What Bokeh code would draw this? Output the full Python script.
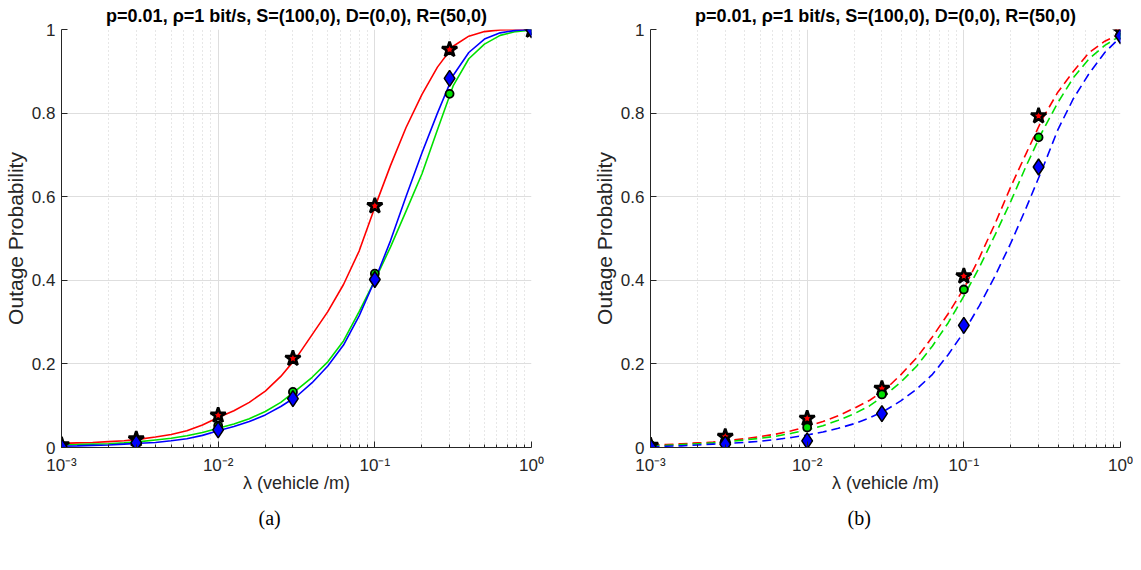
from bokeh.plotting import figure
from bokeh.layouts import row
from bokeh.models import FixedTicker, CustomJSTickFormatter, Title
from bokeh.embed import file_html
from bokeh.resources import INLINE

# ---------------- data ----------------
lam_curve = [0.001, 0.00126, 0.00158, 0.002, 0.00251, 0.00316, 0.00398, 0.00501, 0.00631, 0.00794,
             0.01, 0.0126, 0.0158, 0.02, 0.0251, 0.0316, 0.0398, 0.0501, 0.0631, 0.0794,
             0.1, 0.126, 0.158, 0.2, 0.251, 0.316, 0.398, 0.501, 0.631, 0.794, 1.0]
lam_pts = [0.001, 0.003, 0.01, 0.03, 0.1, 0.3, 1.0]

# (a) analytical curves (solid)
a_red = [0.0098, 0.011, 0.012, 0.014, 0.016, 0.020, 0.025, 0.031, 0.040, 0.054,
         0.072, 0.088, 0.108, 0.135, 0.170, 0.215, 0.27, 0.325, 0.39, 0.47,
         0.575, 0.675, 0.765, 0.845, 0.91, 0.96, 0.984, 0.995, 0.999, 1.0, 1.0]
a_green = [0.006, 0.007, 0.008, 0.009, 0.011, 0.014, 0.018, 0.022, 0.028, 0.036,
           0.046, 0.056, 0.069, 0.086, 0.108, 0.137, 0.168, 0.205, 0.255, 0.325,
           0.40, 0.48, 0.565, 0.655, 0.76, 0.865, 0.93, 0.965, 0.986, 0.995, 0.999]
a_blue = [0.003, 0.004, 0.005, 0.006, 0.008, 0.010, 0.012, 0.016, 0.021, 0.029,
          0.040, 0.050, 0.062, 0.078, 0.098, 0.122, 0.155, 0.195, 0.245, 0.315,
          0.400, 0.495, 0.600, 0.705, 0.80, 0.89, 0.945, 0.977, 0.992, 0.998, 1.0]
# (a) simulation markers
a_red_pts = [0.006, 0.020, 0.077, 0.213, 0.578, 0.952, 0.998]
a_green_pts = [0.004, 0.013, 0.052, 0.133, 0.416, 0.846, 0.998]
a_blue_pts = [0.002, 0.011, 0.042, 0.117, 0.402, 0.883, 0.999]

# (b) analytical curves (dashed)
b_red = [0.006, 0.007, 0.009, 0.011, 0.013, 0.017, 0.021, 0.026, 0.032, 0.040,
         0.050, 0.062, 0.076, 0.094, 0.113, 0.139, 0.175, 0.215, 0.265, 0.32,
         0.38, 0.455, 0.535, 0.625, 0.705, 0.785, 0.85, 0.90, 0.945, 0.972, 0.99]
b_green = [0.004, 0.005, 0.007, 0.009, 0.011, 0.014, 0.018, 0.022, 0.027, 0.034,
           0.042, 0.052, 0.065, 0.081, 0.10, 0.126, 0.157, 0.195, 0.243, 0.298,
           0.362, 0.432, 0.508, 0.59, 0.675, 0.755, 0.825, 0.885, 0.93, 0.962, 0.985]
b_blue = [0.002, 0.003, 0.004, 0.006, 0.008, 0.010, 0.012, 0.015, 0.019, 0.024,
          0.030, 0.037, 0.046, 0.057, 0.071, 0.089, 0.112, 0.14, 0.175, 0.222,
          0.276, 0.34, 0.41, 0.49, 0.575, 0.665, 0.76, 0.835, 0.895, 0.945, 0.982]
# (b) simulation markers
b_red_pts = [0.005, 0.026, 0.0695, 0.141, 0.41, 0.793, 0.997]
b_green_pts = [0.006, 0.014, 0.048, 0.127, 0.378, 0.742, 0.987]
b_blue_pts = [0.002, 0.008, 0.016, 0.081, 0.292, 0.671, 0.985]

x_major = [0.001, 0.01, 0.1, 1.0]
y_major = [0, 0.2, 0.4, 0.6, 0.8, 1.0]
title_text = "p=0.01, \u03c1=1 bit/s, S=(100,0), D=(0,0), R=(50,0)"
x_label = "\u03bb (vehicle /m)"
y_label = "Outage Probability"

SANS = "Liberation Sans"
AXC = "#262626"

x_minor = [m * d for d in (0.001, 0.01, 0.1) for m in range(2, 10)]

sup_fmt = CustomJSTickFormatter(code="""
const sup = {"-": "\u207b", "0": "\u2070", "1": "\u00b9", "2": "\u00b2", "3": "\u00b3"};
const e = Math.round(Math.log10(tick));
return "10" + String(e).split("").map(c => sup[c]).join("");
""")
y_fmt = CustomJSTickFormatter(code="return tick.toFixed(1).replace(/\\.0$/, '');")


def make_fig(curves, pts, dash, caption, border_right):
    p = figure(x_axis_type="log", x_range=(0.001, 1.0), y_range=(0, 1),
               frame_width=470, frame_height=418,
               min_border_left=52, min_border_right=border_right,
               min_border_top=28, min_border_bottom=100,
               output_backend="svg", toolbar_location=None)
    p.outline_line_color = None
    p.background_fill_color = "white"

    p.title.text = title_text
    p.title.text_font = SANS
    p.title.text_font_size = "18px"
    p.title.text_font_style = "bold"
    p.title.align = "center"
    p.title.standoff = 7
    p.title.text_color = "black"

    xa = p.xaxis[0]
    xa.ticker = FixedTicker(ticks=x_major, minor_ticks=x_minor)
    xa.formatter = sup_fmt
    xa.axis_label = x_label
    ya = p.yaxis[0]
    ya.ticker = FixedTicker(ticks=y_major)
    ya.formatter = y_fmt
    ya.axis_label = y_label
    for ax in (xa, ya):
        ax.axis_line_color = AXC
        ax.major_tick_line_color = AXC
        ax.minor_tick_line_color = AXC
        ax.major_tick_in = 6
        ax.major_tick_out = 0
        ax.minor_tick_in = 3
        ax.minor_tick_out = 0
        ax.major_label_text_font = SANS
        ax.major_label_text_font_size = "17px"
        ax.major_label_text_color = AXC
        ax.axis_label_text_font = SANS
        ax.axis_label_text_font_style = "normal"
        ax.axis_label_text_color = AXC
    ya.minor_tick_line_color = None
    ya.axis_label_text_font_size = "21px"
    ya.major_label_standoff = 6
    ya.axis_label_standoff = 2
    xa.axis_label_text_font_size = "18px"
    xa.major_label_standoff = 8
    xa.axis_label_standoff = -5

    p.xgrid.grid_line_color = "#dedede"
    p.xgrid.minor_grid_line_color = "#cfcfcf"
    p.xgrid.minor_grid_line_dash = "1 3"
    p.ygrid.grid_line_color = "#dedede"

    colors = ["#ff0000", "#00e000", "#0000ff"]
    for ys, c in zip(curves, colors):
        if dash:
            p.line(lam_curve, ys, line_color=c, line_width=1.6, line_dash="9 5")
        else:
            p.line(lam_curve, ys, line_color=c, line_width=1.6)
    p.scatter(lam_pts, pts[0], marker="star", size=16, fill_color="#ff0000",
              line_color="black", line_width=2.6)
    p.scatter(lam_pts, pts[1], marker="circle", size=8, fill_color="#00e000",
              line_color="black", line_width=1.8)
    p.scatter(lam_pts, pts[2], marker="diamond", size=16, fill_color="#0000ff",
              line_color="black", line_width=1.5)

    cap = Title(text=caption, align="left", offset=197, standoff=18,
                text_font="Liberation Serif", text_font_size="20px",
                text_font_style="normal", text_color="black")
    p.add_layout(cap, "below")
    return p


pa = make_fig([a_red, a_green, a_blue], [a_red_pts, a_green_pts, a_blue_pts], False, "(a)", 58)
pb = make_fig([b_red, b_green, b_blue], [b_red_pts, b_green_pts, b_blue_pts], True, "(b)", 13)

layout = row(pa, pb)
open("out.html", "w").write(file_html(layout, INLINE))
